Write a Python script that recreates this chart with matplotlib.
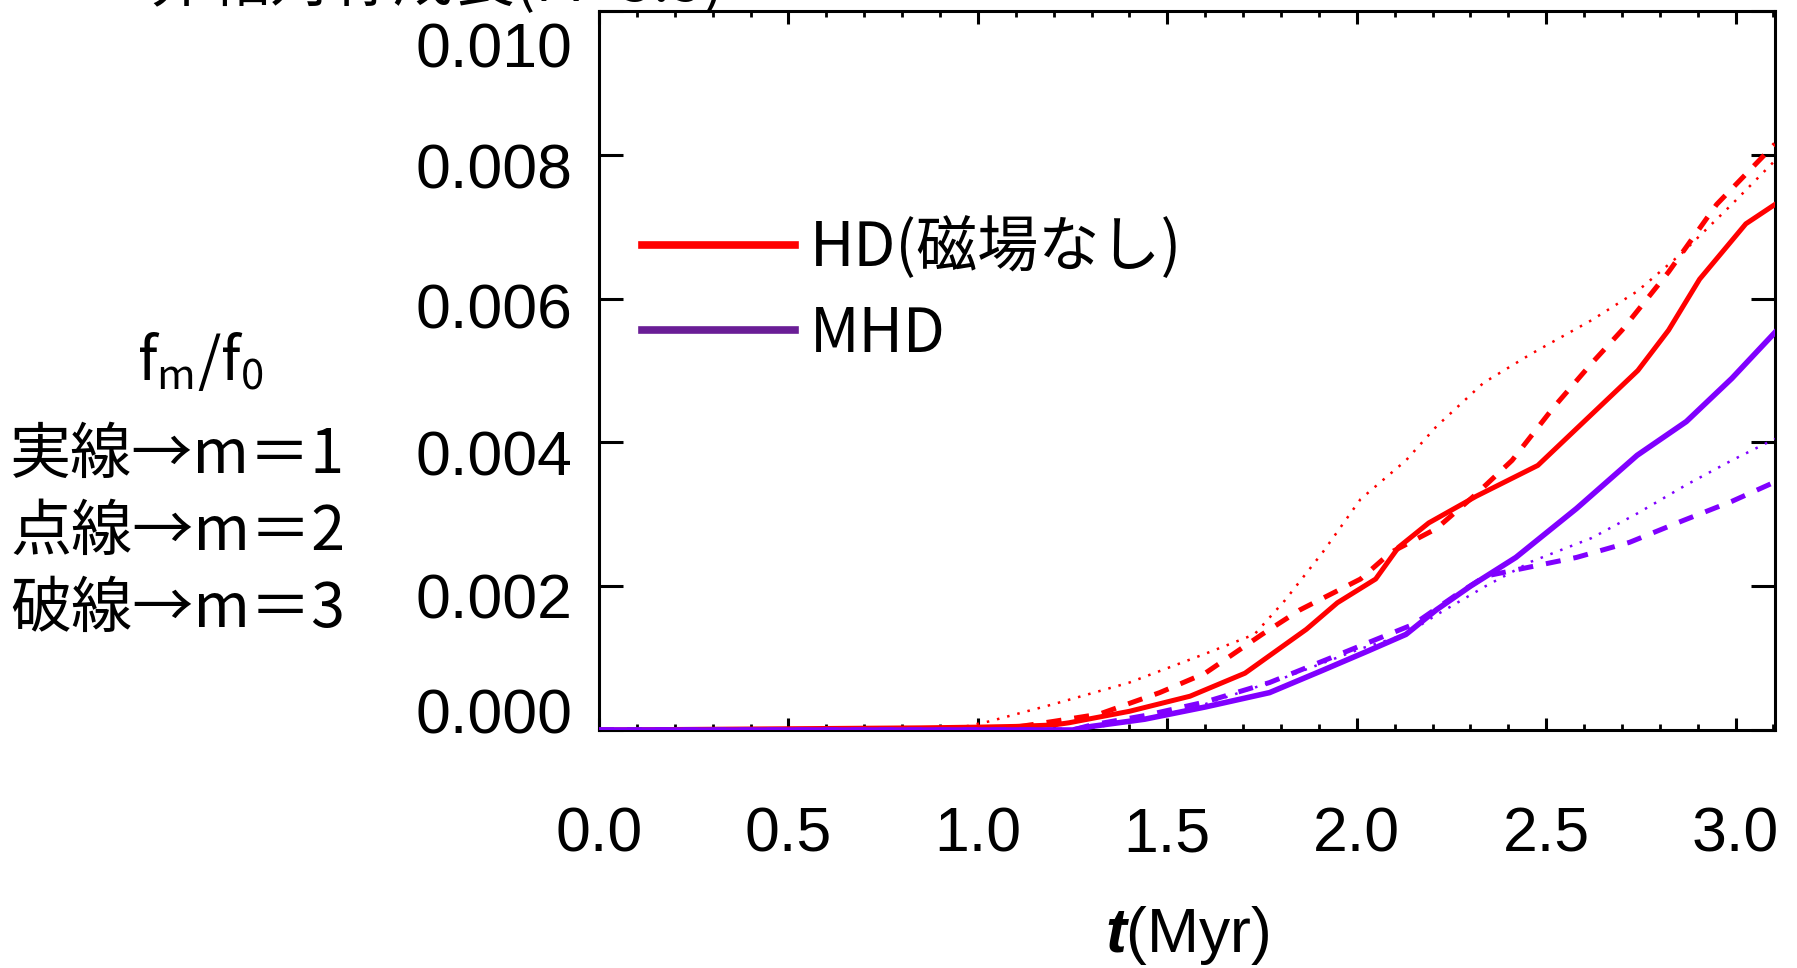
import matplotlib
matplotlib.use("Agg")
import matplotlib.pyplot as plt
from matplotlib.lines import Line2D
from matplotlib.ticker import MultipleLocator
import matplotlib.transforms as mtransforms

plt.rcParams['font.family'] = ['Liberation Sans', 'Noto Sans CJK JP', 'DejaVu Sans']
plt.rcParams['mathtext.fontset'] = 'custom'
plt.rcParams['mathtext.rm'] = 'Noto Sans CJK JP'
plt.rcParams['mathtext.it'] = 'Liberation Sans:italic:bold'

# ---------------- data ----------------
t_hd_m1 = [0.0, 0.85, 1.0, 1.1, 1.2, 1.24, 1.40, 1.56, 1.705, 1.867, 1.949, 2.05, 2.11, 2.19,
           2.315, 2.478, 2.60, 2.742, 2.823, 2.905, 3.027, 3.104]
f_hd_m1 = [0.0, 0.00003, 0.00004, 0.00005, 0.00007, 0.0001, 0.00026, 0.00047, 0.00079, 0.0014,
           0.00177, 0.0021, 0.00254, 0.00288, 0.00325, 0.00368, 0.00429, 0.0050, 0.00556,
           0.00627, 0.00704, 0.00731]

t_hd_m2 = [0.0, 0.85, 0.95, 1.03, 1.2, 1.40, 1.60, 1.73, 1.81, 1.91, 2.01, 2.13, 2.21, 2.335,
           2.46, 2.62, 2.74, 2.86, 2.99, 3.104]
f_hd_m2 = [0.0, 0.0, 0.00003, 0.00012, 0.00036, 0.00066, 0.00106, 0.00133, 0.0018, 0.00247,
           0.00321, 0.00375, 0.00422, 0.00483, 0.00523, 0.0057, 0.0061, 0.00664, 0.00731, 0.00792]

t_hd_m3 = [0.0, 0.95, 1.1, 1.2, 1.32, 1.48, 1.60, 1.75, 1.85, 2.01, 2.09, 2.21, 2.315, 2.41,
           2.52, 2.62, 2.70, 2.823, 2.95, 3.104]
f_hd_m3 = [0.0, 0.0, 0.00004, 0.00012, 0.00022, 0.00052, 0.00079, 0.00133, 0.00167, 0.0021,
           0.00247, 0.0028, 0.00328, 0.00375, 0.00449, 0.0051, 0.00556, 0.00637, 0.00731, 0.00815]

t_mhd_m1 = [0.0, 1.25, 1.30, 1.44, 1.60, 1.77, 1.91, 2.03, 2.13, 2.21, 2.30, 2.42, 2.58, 2.74,
            2.87, 2.99, 3.104]
f_mhd_m1 = [0.0, 0.0, 0.00005, 0.00015, 0.00032, 0.00052, 0.00083, 0.0011, 0.00133, 0.00167,
            0.0020, 0.0024, 0.00308, 0.00382, 0.00429, 0.00489, 0.00553]

t_mhd_m2 = [0.0, 1.25, 1.30, 1.45, 1.60, 1.81, 2.01, 2.13, 2.21, 2.34, 2.46, 2.62, 2.74, 2.87,
            2.99, 3.104]
f_mhd_m2 = [0.0, 0.0, 0.00003, 0.00015, 0.00036, 0.00073, 0.00113, 0.00133, 0.0016, 0.0020,
            0.00234, 0.00267, 0.00301, 0.00341, 0.00375, 0.00405]

t_mhd_m3 = [0.0, 1.25, 1.30, 1.44, 1.60, 1.77, 1.93, 2.07, 2.15, 2.26, 2.34, 2.46, 2.58, 2.72,
            2.86, 2.99, 3.104]
f_mhd_m3 = [0.0, 0.0, 0.00007, 0.0002, 0.00039, 0.00066, 0.0010, 0.0013, 0.00147, 0.00187,
            0.00214, 0.00227, 0.0024, 0.00261, 0.00291, 0.00318, 0.00345]

x_ticks = [0.0, 0.5, 1.0, 1.5, 2.0, 2.5, 3.0]
x_ticklabels = ['0.0', '0.5', '1.0', '1.5', '2.0', '2.5', '3.0']
y_ticks = [0.000, 0.002, 0.004, 0.006, 0.008, 0.010]
y_ticklabels = ['0.000', '0.002', '0.004', '0.006', '0.008', '0.010']

legend_labels = ['HD(磁場なし)', 'MHD']
note_lines = ['実線→m＝1', '点線→m＝2', '破線→m＝3']
title_text = '非軸対称成長(M=3.5)'

RED = '#FF0000'
VIOLET = '#8000FF'
LEG_PURPLE = '#6A1E96'

# ---------------- figure ----------------
W, H = 1797, 968
fig = plt.figure(figsize=(W / 100, H / 100), dpi=100)
ax = fig.add_axes([599 / W, 1 - 730 / H, (1775 - 599) / W, (730 - 11) / H])

ax.plot(t_hd_m2, f_hd_m2, color=RED, lw=1.8, linestyle=(0, (1.0, 3.2)), zorder=3)
ax.plot(t_hd_m3, f_hd_m3, color=RED, lw=3.6, linestyle=(0, (3.0, 2.6)), zorder=3)
ax.plot(t_hd_m1, f_hd_m1, color=RED, lw=3.6, zorder=3)
ax.plot(t_mhd_m2, f_mhd_m2, color=VIOLET, lw=1.8, linestyle=(0, (1.0, 3.2)), zorder=4)
ax.plot(t_mhd_m3, f_mhd_m3, color=VIOLET, lw=3.6, linestyle=(0, (3.0, 2.6)), zorder=4)
ax.plot(t_mhd_m1, f_mhd_m1, color=VIOLET, lw=4.0, zorder=4)

ax.set_xlim(0, 3.104)
ax.set_ylim(0, 0.010)

ax.set_xticks(x_ticks)
ax.set_xticklabels(x_ticklabels)
ax.xaxis.set_minor_locator(MultipleLocator(0.1))
ax.set_yticks(y_ticks)
ax.set_yticklabels(y_ticklabels)

for s in ax.spines.values():
    s.set_linewidth(2.2)

ax.tick_params(axis='x', which='major', direction='in', top=True, bottom=True,
               length=9, width=2.2, labelsize=45, pad=54)
ax.tick_params(axis='x', which='minor', direction='in', top=True, bottom=True,
               length=4.5, width=2.0)
ax.tick_params(axis='y', which='major', direction='in', left=True, right=True,
               length=17, width=2.2, labelsize=45, pad=19)

# IDL-like vertical placement of the y tick labels
y_offsets_pt = [14, -7, -7, -5, -8, -24]
for lab, off in zip(ax.get_yticklabels(), y_offsets_pt):
    lab.set_transform(lab.get_transform() +
                      mtransforms.ScaledTranslation(0, off / 72, fig.dpi_scale_trans))

ax.set_xlabel(r'$t$(Myr)', fontsize=45, labelpad=29)

# legend
handles = [Line2D([], [], color=RED, lw=5.5), Line2D([], [], color=LEG_PURPLE, lw=5.5)]
leg = ax.legend(handles, legend_labels, loc='upper left',
                bbox_to_anchor=(642 / W, 1 - 217 / H), bbox_transform=fig.transFigure,
                frameon=False, borderpad=0, borderaxespad=0, handlelength=2.5,
                handletextpad=0.25, labelspacing=0.38,
                prop={'family': ['Noto Sans CJK JP', 'DejaVu Sans'], 'size': 44})

# left annotation
fig.text(200 / W, 1 - 361 / H, r'$\mathrm{f_m/f_0}$', ha='center', va='center', fontsize=43)
for i, line in enumerate(note_lines):
    fig.text(10 / W, 1 - (456 + 77 * i) / H, line, ha='left', va='center', fontsize=44,
             family=['Noto Sans CJK JP', 'DejaVu Sans'])

# cut-off title at the very top
fig.text(149 / W, 1 - 1 / H, title_text, ha='left', va='baseline', fontsize=44,
         family=['Noto Sans CJK JP', 'DejaVu Sans'])

fig.savefig('out.png', dpi=100)
